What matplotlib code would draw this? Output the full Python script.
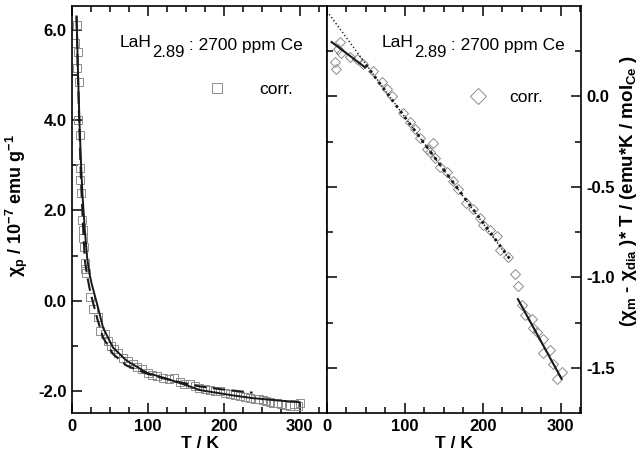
import matplotlib
matplotlib.use("Agg")
import matplotlib.pyplot as plt
from matplotlib.ticker import MultipleLocator, FormatStrFormatter

plt.rcParams['font.family'] = ['Liberation Sans', 'DejaVu Sans']
plt.rcParams['mathtext.fontset'] = 'custom'
plt.rcParams['mathtext.rm'] = 'Liberation Sans'
plt.rcParams['mathtext.bf'] = 'Liberation Sans:bold'
plt.rcParams['axes.unicode_minus'] = False

# left panel: chi_p (corr.) vs T
T_left = [4, 6.6, 6.6, 8, 8, 9, 10.5, 10.5, 11, 12, 13, 14.5, 15, 16, 17, 17.5, 18,
          24, 28, 34, 37, 43, 47, 52, 56, 61, 67, 74, 80, 86, 92, 100, 106, 112, 120,
          128, 134, 142, 148, 155, 162, 168, 175, 182, 188, 195, 202, 208, 215, 221,
          228, 234, 241, 247, 252, 256, 261, 265, 270, 276, 282, 287, 293, 298, 300]
chi_left = [5.7, 6.1, 5.15, 5.5, 4.0, 4.85, 3.67, 2.93, 2.67, 2.38, 1.78, 1.56, 1.38,
            1.18, 0.84, 0.71, 0.62, 0.07, -0.18, -0.37, -0.67, -0.73, -0.89, -1.0,
            -1.08, -1.15, -1.27, -1.33, -1.40, -1.46, -1.51, -1.6, -1.64, -1.67, -1.71,
            -1.74, -1.71, -1.80, -1.84, -1.85, -1.90, -1.93, -1.95, -1.97, -2.0, -2.0,
            -2.04, -2.07, -2.09, -2.11, -2.13, -2.15, -2.17, -2.18, -2.20, -2.22, -2.24,
            -2.26, -2.27, -2.29, -2.31, -2.33, -2.29, -2.33, -2.27]

# fit curves
T_solid = [6, 8, 10, 12, 14, 17, 20, 23, 26, 33, 41, 54, 72, 99, 125, 150, 168, 212,
           238, 270, 300]
chi_solid = [6.3, 5.0, 3.9, 3.0, 2.3, 1.55, 0.95, 0.6, 0.37, -0.07, -0.6, -1.04, -1.33,
             -1.6, -1.73, -1.87, -1.98, -2.1, -2.16, -2.21, -2.25]
T_dash = [6, 8, 10, 12, 15, 17, 20, 24, 33, 41, 54, 72, 99, 120, 140, 168, 200, 238]
chi_dash = [6.3, 4.9, 3.7, 2.6, 1.5, 0.89, 0.55, 0.2, -0.38, -0.82, -1.18, -1.44, -1.62,
            -1.72, -1.8, -1.9, -1.97, -2.04]

# right panel: (chi_m - chi_dia)*T vs T
T_right = [10, 11, 14, 17, 18, 29, 38, 46, 59, 70, 77, 83, 97, 106, 113, 119, 128, 132,
           136, 138, 145, 154, 162, 168, 179, 187, 196, 200, 209, 218, 222, 232, 241,
           245, 250, 254, 263, 264, 269, 277, 277, 286, 290, 295, 301]
chiT_right = [0.19, 0.15, 0.26, 0.30, 0.24, 0.22, 0.205, 0.18, 0.14, 0.08, 0.04, 0.0,
              -0.09, -0.14, -0.18, -0.23, -0.29, -0.31, -0.26, -0.34, -0.39, -0.42,
              -0.47, -0.51, -0.59, -0.62, -0.67, -0.71, -0.74, -0.77, -0.85, -0.89,
              -0.98, -1.05, -1.15, -1.21, -1.23, -1.28, -1.30, -1.34, -1.42, -1.40,
              -1.48, -1.56, -1.52]
T_fit_low = [6, 49]
chiT_fit_low = [0.30, 0.16]
T_fit_high = [245, 301]
chiT_fit_high = [-1.12, -1.56]
T_fit_mid = [0, 235]
chiT_fit_mid = [0.47, -0.905]
T_fit_mid2 = [50, 235]
chiT_fit_mid2 = [0.175, -0.9]

sample_parts = ['LaH', '2.89', ' : 2700 ppm Ce']


def style_axis(ax):
    ax.tick_params(which='both', direction='in', top=True, width=1.1,
                   labelsize=12)
    ax.tick_params(which='major', length=7, pad=4)
    ax.tick_params(which='minor', length=4)
    for s in ax.spines.values():
        s.set_linewidth(1.2)
    for lab in ax.get_xticklabels() + ax.get_yticklabels():
        lab.set_fontweight('bold')


def sample_text(ax, x, y):
    t1 = ax.text(x, y, sample_parts[0], transform=ax.transAxes, fontsize=12.5,
                 va='baseline', ha='left')
    t2 = ax.annotate(sample_parts[1], xy=(1, 0), xycoords=t1, xytext=(0, -5.5),
                     textcoords='offset points', fontsize=12, va='baseline',
                     ha='left')
    ax.annotate(sample_parts[2], xy=(1, 0), xycoords=t2, xytext=(0, 5.5),
                textcoords='offset points', fontsize=12.5, va='bottom', ha='left')


fig = plt.figure(figsize=(6.41, 4.59), dpi=100)
ax1 = fig.add_axes([0.1123, 0.1002, 0.3978, 0.8867])
ax2 = fig.add_axes([0.5101, 0.1002, 0.3963, 0.8867])

# left
sq, = ax1.plot(T_left, chi_left, 's', ms=5.5, mfc='none', mec='#8c8c8c', mew=0.7,
               label='corr.')
ax1.plot(T_solid, chi_solid, '-', color='#1a1a1a', lw=1.4)
ax1.plot(T_dash, chi_dash, '--', color='#1a1a1a', lw=1.5, dashes=(6, 3))
ax1.set_xlim(0, 336)
ax1.set_ylim(-2.49, 6.53)
ax1.xaxis.set_major_locator(MultipleLocator(100))
ax1.xaxis.set_minor_locator(MultipleLocator(25))
ax1.yaxis.set_major_locator(MultipleLocator(2))
ax1.yaxis.set_minor_locator(MultipleLocator(1))
ax1.yaxis.set_major_formatter(FormatStrFormatter('%.1f'))
ax1.tick_params(which='both', right=False)
style_axis(ax1)
ax1.set_xlabel('T / K', fontsize=12.5, fontweight='bold', labelpad=2)
ax1.set_ylabel('χ$_{\\mathbf{p}}$ / 10$^{\\mathbf{-7}}$ emu g$^{\\mathbf{-1}}$',
               fontsize=13, fontweight='bold')
ax1.yaxis.set_label_coords(-0.165, 0.51)
sample_text(ax1, 0.188, 0.9)
ax1.legend(handles=[sq], loc='center left', bbox_to_anchor=(0.475, 0.795),
           frameon=False, handlelength=1, handletextpad=1.9, fontsize=12.5,
           markerscale=1.4)

# right
di, = ax2.plot(T_right, chiT_right, 'D', ms=5.5, mfc='none', mec='#8c8c8c', mew=0.7,
               label='corr.')
ax2.plot(T_fit_mid, chiT_fit_mid, ':', color='#1a1a1a', lw=1.0)
ax2.plot(T_fit_mid2, chiT_fit_mid2, color='#1a1a1a', lw=2.0, ls=(0, (1, 1.6)))
ax2.plot(T_fit_low, chiT_fit_low, '-', color='#1a1a1a', lw=1.5)
ax2.plot(T_fit_high, chiT_fit_high, '-', color='#1a1a1a', lw=1.5)
ax2.set_xlim(0, 326)
ax2.set_ylim(-1.749, 0.499)
ax2.xaxis.set_major_locator(MultipleLocator(100))
ax2.xaxis.set_minor_locator(MultipleLocator(25))
ax2.yaxis.set_major_locator(MultipleLocator(0.5))
ax2.yaxis.set_minor_locator(MultipleLocator(0.25))
ax2.yaxis.set_major_formatter(FormatStrFormatter('%.1f'))
ax2.yaxis.tick_right()
ax2.tick_params(which='both', left=True, right=True, labelleft=False,
                labelright=True)
style_axis(ax2)
ax2.yaxis.set_label_position('right')
ax2.set_xlabel('T / K', fontsize=12.5, fontweight='bold', labelpad=2)
ax2.set_ylabel('(χ$_{\\mathbf{m}}$ - χ$_{\\mathbf{dia}}$ )* T / (emu*K / mol$_{\\mathbf{Ce}}$ )',
               fontsize=13.5, fontweight='bold', rotation=90)
ax2.yaxis.set_label_coords(1.145, 0.545)
sample_text(ax2, 0.217, 0.9)
ax2.legend(handles=[di], loc='center left', bbox_to_anchor=(0.5, 0.776),
           frameon=False, handlelength=1, handletextpad=1.3, fontsize=12.5,
           markerscale=1.4)

fig.savefig('out.png', dpi=100)
